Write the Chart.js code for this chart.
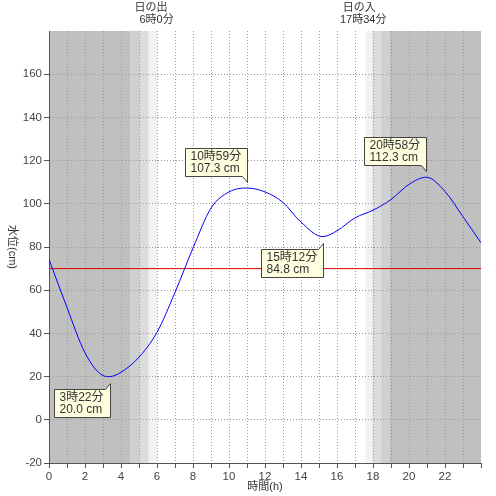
<!DOCTYPE html>
<html>
<head>
<meta charset="utf-8">
<script src="https://cdn.jsdelivr.net/npm/chart.js@4"></script>
<style>
html,body{margin:0;padding:0;background:#fff;}
#wrap{width:496px;height:496px;}
</style>
</head>
<body>
<div id="wrap"><canvas id="c" width="496" height="496"></canvas></div>
<script>
// ---- data ----
const hours  = [0, 1, 2, 3, 3.367, 4, 5, 6, 7, 8, 9, 10, 10.983, 12, 13, 14, 15.2, 16, 17, 18, 19, 20, 20.967, 22, 23, 24];
const levels = [74.2, 52, 31, 20.5, 20.0, 22, 29, 40.5, 59, 79.5, 98, 105.5, 107.3, 105.5, 100.6, 91.5, 84.8, 87.5, 93.5, 97, 102, 109, 112.3, 105.7, 94, 82];
const referenceHours  = [0, 24];
const referenceLevels = [70, 70];
const extremaHours  = [3.367, 10.983, 15.2, 20.967];
const extremaLevels = [20.0, 107.3, 84.8, 112.3];
const extremaTimes  = ['3時22分', '10時59分', '15時12分', '20時58分'];
const extremaTexts  = ['20.0 cm', '107.3 cm', '84.8 cm', '112.3 cm'];
const extremaKinds  = ['low', 'high', 'low', 'high'];
const sunHours  = [6.0, 17.567];
const sunTitles = ['日の出', '日の入'];
const sunTimes  = [' 6時0分', '17時34分'];
const shadeStarts = [0, 4.54, 5.05, 5.54, 17.567, 17.98, 18.44, 18.94];
const shadeEnds   = [4.54, 5.05, 5.54, 6.0, 17.98, 18.44, 18.94, 24];
const shadeLevels = [3, 2, 1, 0, 0, 1, 2, 3];
const xTitle = '時間(h)';
const yTitle = '水位(cm)';

const FONT = '"Liberation Sans", "Noto Sans CJK JP", sans-serif';
const shadeColors = ['#f2f2f2', '#dcdcdc', '#d0d0d0', '#c0c0c0'];

const bgPlugin = {
  id: 'bg',
  beforeDraw(chart) {
    const {ctx, chartArea: a, scales: {x}} = chart;
    ctx.save();
    for (let i = 0; i < shadeStarts.length; i++) {
      const x1 = x.getPixelForValue(shadeStarts[i]);
      const x2 = x.getPixelForValue(shadeEnds[i]);
      ctx.fillStyle = shadeColors[shadeLevels[i]];
      ctx.fillRect(x1, a.top, x2 - x1, a.bottom - a.top);
    }
    ctx.restore();
  }
};

const annotPlugin = {
  id: 'annot',
  afterDatasetsDraw(chart) {
    const {ctx, chartArea: a, scales: {x, y}} = chart;
    ctx.save();
    ctx.fillStyle = '#333';
    ctx.font = '11px ' + FONT;
    ctx.textAlign = 'center';
    ctx.textBaseline = 'middle';
    for (let i = 0; i < sunHours.length; i++) {
      const px = x.getPixelForValue(sunHours[i]);
      ctx.fillText(sunTitles[i], px - 6, 8);
      ctx.fillText(sunTimes[i], px - 2, 20);
    }
    ctx.font = '12px ' + FONT;
    for (let i = 0; i < extremaHours.length; i++) {
      const px = Math.round(x.getPixelForValue(extremaHours[i])) + 0.5;
      const py = y.getPixelForValue(extremaLevels[i]);
      const w = Math.ceil(Math.max(ctx.measureText(extremaTimes[i]).width, ctx.measureText(extremaTexts[i]).width)) + 11;
      const h = 28;
      const right = px, left = px - w;
      let top;
      ctx.beginPath();
      if (extremaKinds[i] === 'high') {
        const bottom = Math.round(py - 12) + 0.5;
        top = bottom - h;
        ctx.moveTo(left, top);
        ctx.lineTo(right, top);
        ctx.lineTo(right, bottom + 6);
        ctx.lineTo(right - 5, bottom);
        ctx.lineTo(left, bottom);
      } else {
        top = Math.round(py + 12) + 0.5;
        const bottom = top + h;
        ctx.moveTo(left, top);
        ctx.lineTo(right - 5, top);
        ctx.lineTo(right, top - 6);
        ctx.lineTo(right, bottom);
        ctx.lineTo(left, bottom);
      }
      ctx.closePath();
      ctx.fillStyle = '#ffffe0';
      ctx.fill();
      ctx.strokeStyle = '#444';
      ctx.lineWidth = 1;
      ctx.stroke();
      ctx.fillStyle = '#333';
      ctx.textAlign = 'left';
      ctx.textBaseline = 'middle';
      ctx.fillText(extremaTimes[i], left + 5, top + 8);
      ctx.fillText(extremaTexts[i], left + 5, top + 20);
    }
    ctx.font = '11px ' + FONT;
    ctx.fillStyle = '#333';
    ctx.textAlign = 'center';
    ctx.textBaseline = 'middle';
    ctx.fillText(xTitle, (a.left + a.right) / 2, 487);
    ctx.translate(12, (a.top + a.bottom) / 2);
    ctx.rotate(Math.PI / 2);
    ctx.fillText(yTitle, 0, 0);
    ctx.restore();
  }
};

new Chart(document.getElementById('c'), {
  type: 'line',
  data: {
    datasets: [
      {
        data: hours.map((h, i) => ({x: h, y: levels[i]})),
        borderColor: '#0000ff',
        borderWidth: 1,
        pointRadius: 0,
        fill: false,
        cubicInterpolationMode: 'monotone'
      },
      {
        data: referenceHours.map((h, i) => ({x: h, y: referenceLevels[i]})),
        borderColor: '#dd0000',
        borderWidth: 1,
        pointRadius: 0,
        fill: false
      }
    ]
  },
  plugins: [bgPlugin, annotPlugin],
  options: {
    responsive: false,
    animation: false,
    devicePixelRatio: 1,
    layout: {padding: {top: 31, right: 15, left: 0, bottom: 0}},
    plugins: {legend: {display: false}, tooltip: {enabled: false}},
    scales: {
      x: {
        type: 'linear', min: 0, max: 24,
        afterFit(s) { s.height = 33; },
        ticks: {
          stepSize: 1, autoSkip: false, maxRotation: 0, padding: 2,
          color: '#444', font: {family: FONT, size: 11.5},
          callback: v => (v % 2 === 0 && v < 24) ? String(v) : ''
        },
        grid: {
          color: c => (c.tick && (c.tick.value === 24 || c.tick.value === 0)) ? 'rgba(0,0,0,0)' : '#9a9a9a',
          tickColor: '#555', tickLength: 5, lineWidth: 1
        },
        border: {color: '#555', width: 1, dash: [1, 2]}
      },
      y: {
        min: -20, max: 180,
        afterFit(s) { s.width = 49; },
        ticks: {
          stepSize: 20, padding: 2,
          color: '#444', font: {family: FONT, size: 11.5},
          callback: v => v === 180 ? '' : String(v)
        },
        grid: {
          color: c => (c.tick && (c.tick.value === 180 || c.tick.value === -20)) ? 'rgba(0,0,0,0)' : '#9a9a9a',
          tickColor: c => (c.tick && c.tick.value === 180) ? 'rgba(0,0,0,0)' : '#555',
          tickLength: 5, lineWidth: 1
        },
        border: {color: '#555', width: 1, dash: [1, 2]}
      }
    }
  }
});
</script>
</body>
</html>
